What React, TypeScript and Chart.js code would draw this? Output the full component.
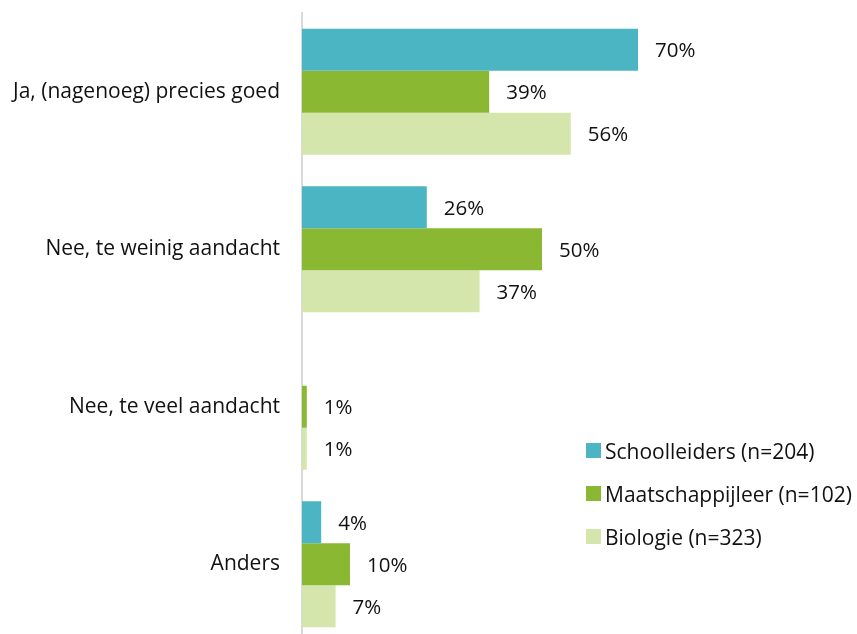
import React, { useEffect, useRef } from "react";
import { Chart, registerables } from "chart.js";

Chart.register(...registerables);

const categories = [
  "Ja, (nagenoeg) precies goed",
  "Nee, te weinig aandacht",
  "Nee, te veel aandacht",
  "Anders",
];
const seriesNames = [
  "Schoolleiders (n=204)",
  "Maatschappijleer (n=102)",
  "Biologie (n=323)",
];
const schoolleiders = [70, 26, null, 4];
const maatschappijleer = [39, 50, 1, 10];
const biologie = [56, 37, 1, 7];
const colors = ["#4BB5C4", "#8BB833", "#D5E6AD"];

const FONT = "'Open Sans', sans-serif";

const valueLabels = {
  id: "valueLabels",
  afterDatasetsDraw(chart: any) {
    const ctx = chart.ctx;
    ctx.save();
    ctx.font = `20.5px ${FONT}`;
    ctx.fillStyle = "#111111";
    ctx.textAlign = "left";
    ctx.textBaseline = "middle";
    chart.data.datasets.forEach((ds: any, i: number) => {
      const meta = chart.getDatasetMeta(i);
      meta.data.forEach((bar: any, j: number) => {
        const v = ds.data[j];
        if (v === null || v === undefined) return;
        ctx.fillText(`${v}%`, bar.x + 17, bar.y + 1.5);
      });
    });
    ctx.restore();
  },
};

export default function App() {
  const ref = useRef<HTMLCanvasElement>(null);
  useEffect(() => {
    if (!ref.current) return;
    const chart = new Chart(ref.current, {
      type: "bar",
      data: {
        labels: categories,
        datasets: [schoolleiders, maatschappijleer, biologie].map((d, i) => ({
          label: seriesNames[i],
          data: d,
          backgroundColor: colors[i],
          categoryPercentage: 0.8,
          barPercentage: 1,
        })),
      },
      options: {
        indexAxis: "y",
        animation: false,
        responsive: false,
        maintainAspectRatio: false,
        layout: { padding: { top: 13, bottom: 17, right: 75, left: 0 } },
        plugins: {
          legend: { display: false },
          tooltip: { enabled: false },
        },
        scales: {
          x: { display: false, min: 0, max: 100 },
          y: {
            afterFit(scale: any) {
              scale.width = 302;
              scale.paddingTop = 0;
              scale.paddingBottom = 0;
            },
            grid: { display: false, drawTicks: false },
            border: { display: true, color: "#D9D9D9", width: 2 },
            ticks: {
              padding: 22,
              color: "#111111",
              font: { family: FONT, size: 21 },
            },
          },
        },
      },
      plugins: [valueLabels],
    } as any);
    return () => chart.destroy();
  }, []);

  return (
    <div style={{ position: "fixed", left: 0, top: 0, width: 857, height: 660, background: "#fff" }}>
      <canvas ref={ref} width={857} height={660} style={{ display: "block" }} />
      <div style={{ position: "absolute", left: 586, top: 429, fontFamily: FONT, fontSize: 21, color: "#111111" }}>
        {seriesNames.map((n, i) => (
          <div key={n} style={{ display: "flex", alignItems: "center", height: 43 }}>
            <span style={{ display: "inline-block", width: 15, height: 15, background: colors[i], marginRight: 4 }} />
            <span>{n}</span>
          </div>
        ))}
      </div>
    </div>
  );
}
